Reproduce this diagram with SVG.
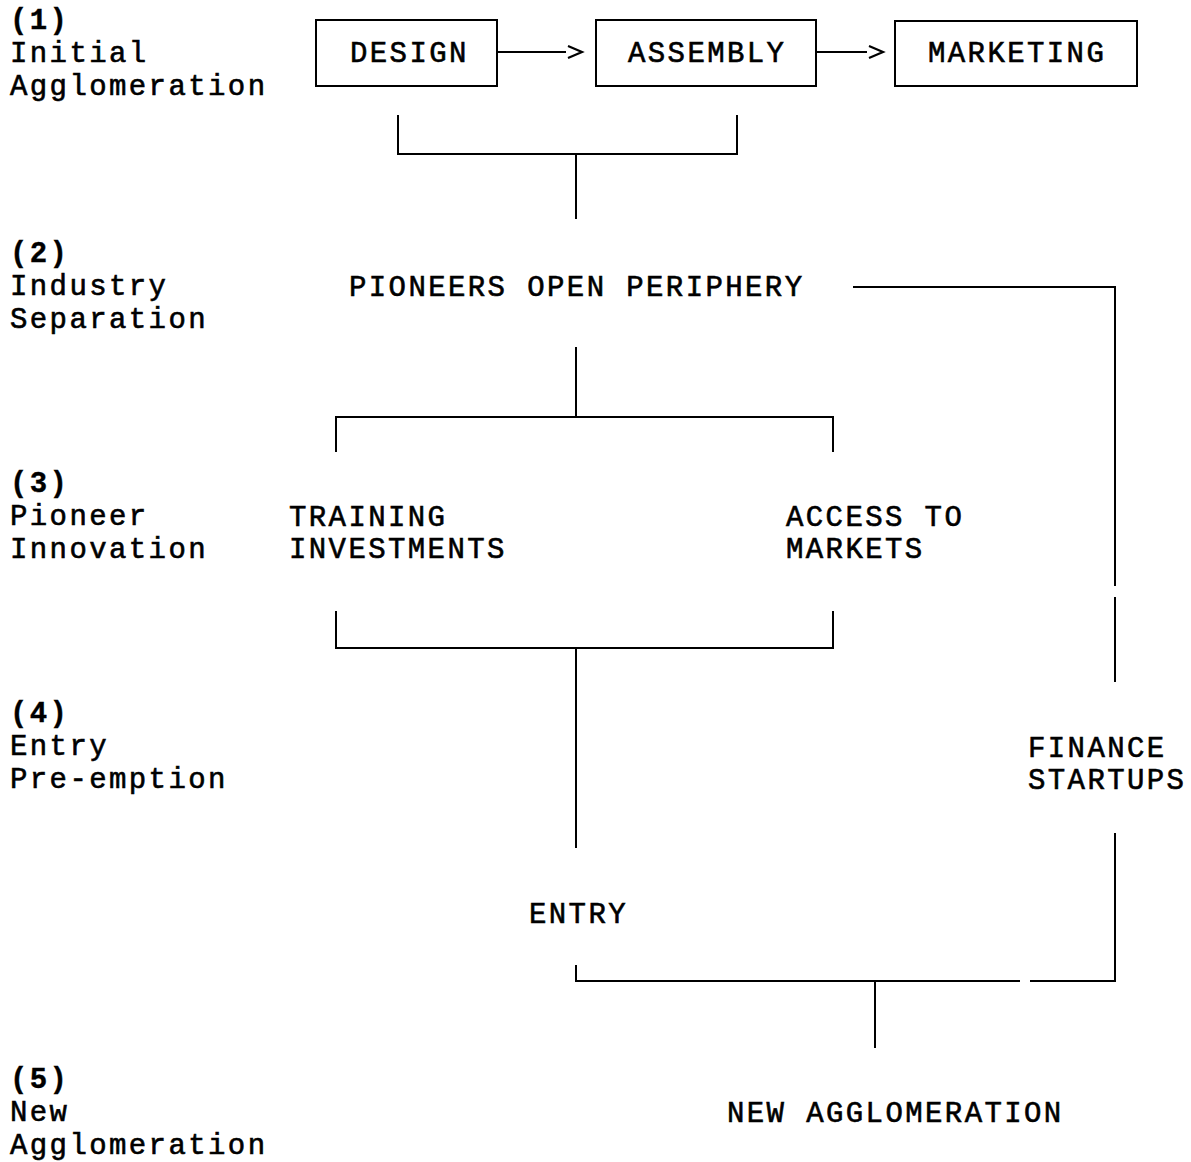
<svg xmlns="http://www.w3.org/2000/svg" width="1191" height="1162" viewBox="0 0 1191 1162">
<style>
  text { font-family: "Liberation Mono", "DejaVu Sans Mono", monospace; font-size: 29px; letter-spacing: 2.4px; fill: #000; stroke: #000; stroke-width: 0.6px; }
  .num { font-weight: bold; stroke-width: 0.4px; }
  .box { fill: #fff; stroke: #000; stroke-width: 2; }
  .wire { fill: none; stroke: #000; stroke-width: 2; }
</style>
<defs>
  <marker id="chev" markerUnits="userSpaceOnUse" markerWidth="20" markerHeight="16" refX="-1" refY="7" orient="auto">
    <path d="M1,1 L15,7 L1,13" fill="none" stroke="#000" stroke-width="2.2"/>
  </marker>
</defs>
<rect width="1191" height="1162" fill="#fff"/>

<g id="stage-labels">
  <text class="num" x="10" y="29">(1)</text>
  <text x="10" y="62">Initial</text>
  <text x="10" y="95">Agglomeration</text>
  <text class="num" x="10" y="262">(2)</text>
  <text x="10" y="295">Industry</text>
  <text x="10" y="328">Separation</text>
  <text class="num" x="10" y="492">(3)</text>
  <text x="10" y="525">Pioneer</text>
  <text x="10" y="558">Innovation</text>
  <text class="num" x="10" y="722">(4)</text>
  <text x="10" y="755">Entry</text>
  <text x="10" y="788">Pre-emption</text>
  <text class="num" x="10" y="1088">(5)</text>
  <text x="10" y="1121">New</text>
  <text x="10" y="1154">Agglomeration</text>
</g>

<g id="design">
  <rect class="box" x="316" y="20" width="181" height="66"/>
  <text x="350" y="62">DESIGN</text>
</g>
<g id="assembly">
  <rect class="box" x="596" y="20" width="220" height="66"/>
  <text x="628" y="62">ASSEMBLY</text>
</g>
<g id="marketing">
  <rect class="box" x="895" y="21" width="242" height="65"/>
  <text x="928" y="62">MARKETING</text>
</g>
<g id="pioneers">
  <text x="349" y="296">PIONEERS OPEN PERIPHERY</text>
</g>
<g id="training">
  <text x="289" y="526">TRAINING</text>
  <text x="289" y="558">INVESTMENTS</text>
</g>
<g id="access">
  <text x="786" y="526">ACCESS TO</text>
  <text x="786" y="558">MARKETS</text>
</g>
<g id="finance">
  <text x="1028" y="757">FINANCE</text>
  <text x="1028" y="789">STARTUPS</text>
</g>
<g id="entry">
  <text x="529" y="923">ENTRY</text>
</g>
<g id="new-agglomeration">
  <text x="727" y="1122">NEW AGGLOMERATION</text>
</g>

<g id="connectors">
  <line class="wire" x1="497" y1="52" x2="566" y2="52" marker-end="url(#chev)"/>
  <line class="wire" x1="816" y1="52" x2="867" y2="52" marker-end="url(#chev)"/>
  <path class="wire" d="M398,115 V154 H737 V115"/>
  <path class="wire" d="M576,154 V219"/>
  <path class="wire" d="M576,347 V417"/>
  <path class="wire" d="M336,452 V417 H833 V452"/>
  <path class="wire" d="M336,611 V648 H833 V611"/>
  <path class="wire" d="M576,648 V848"/>
  <path class="wire" d="M853,287 H1115 V586"/>
  <path class="wire" d="M1115,597 V682"/>
  <path class="wire" d="M1115,833 V981 H1030"/>
  <path class="wire" d="M1020,981 H576 V965"/>
  <path class="wire" d="M875,981 V1048"/>
</g>
</svg>
